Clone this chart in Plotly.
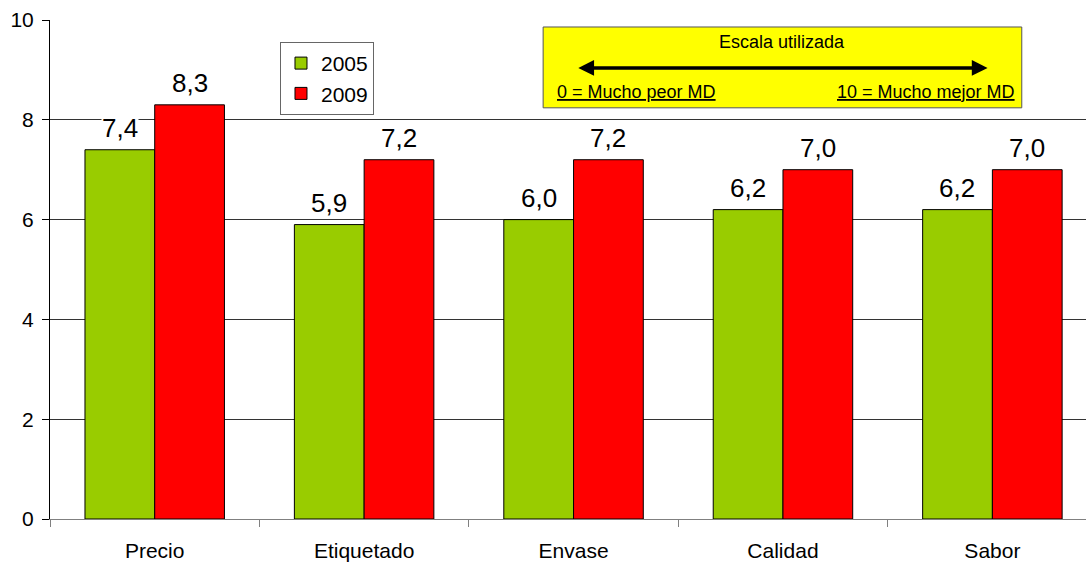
import plotly.graph_objects as go

# Valoración de la marca del distribuidor (MD) por atributo
categorias = ["Precio", "Etiquetado", "Envase", "Calidad", "Sabor"]
valores_2005 = [7.4, 5.9, 6.0, 6.2, 6.2]
valores_2009 = [8.3, 7.2, 7.2, 7.0, 7.0]
series = [("2005", valores_2005, "#99CC00"), ("2009", valores_2009, "#FF0000")]
ticks_y = [0, 2, 4, 6, 8, 10]

FONT = "Liberation Sans, Arial, sans-serif"

fig = go.Figure()
for nombre, valores, color in series:
    fig.add_trace(go.Bar(
        name=nombre, x=categorias, y=valores,
        marker=dict(color=color, line=dict(color="#000000", width=1)),
    ))

# Etiquetas de valor con fondo blanco sobre cada barra
desplaz = [-1 / 6, 1 / 6]
for k, (nombre, valores, color) in enumerate(series):
    for i, v in enumerate(valores):
        fig.add_annotation(
            x=i + desplaz[k], y=v, xref="x", yref="y",
            text=f"{v:.1f}".replace(".", ","),
            showarrow=False, xanchor="center", yanchor="bottom", yshift=6,
            bgcolor="#FFFFFF", borderpad=0,
            font=dict(family=FONT, size=26, color="#000000"),
        )

# Recuadro con la escala utilizada
fig.add_shape(type="rect", xref="paper", yref="paper",
              x0=0.476, x1=0.938, y0=0.824, y1=0.986,
              fillcolor="#FFFF00", line=dict(color="#555555", width=1), layer="above")
fig.add_annotation(xref="paper", yref="paper", x=0.7066, y=0.956,
                   xanchor="center", yanchor="middle",
                   text="Escala utilizada", showarrow=False,
                   font=dict(family=FONT, size=18, color="#000000"))
fig.add_annotation(xref="x", yref="y", x=3.977, y=9.04, ax=2.0155, ay=9.04,
                   axref="x", ayref="y", text="", showarrow=True,
                   arrowhead=2, arrowside="end+start", arrowwidth=3.5,
                   arrowsize=0.9, arrowcolor="#000000")
fig.add_annotation(xref="paper", yref="paper", x=0.487, y=0.856,
                   xanchor="left", yanchor="middle",
                   text="<u>0 = Mucho peor MD</u>", showarrow=False,
                   font=dict(family=FONT, size=18, color="#000000"))
fig.add_annotation(xref="paper", yref="paper", x=0.933, y=0.856,
                   xanchor="right", yanchor="middle",
                   text="<u>10 = Mucho mejor MD</u>", showarrow=False,
                   font=dict(family=FONT, size=18, color="#000000"))

fig.update_layout(
    width=1086, height=563,
    margin=dict(l=50, r=0, t=20, b=44),
    paper_bgcolor="#FFFFFF", plot_bgcolor="#FFFFFF",
    barmode="group", bargap=0.334, bargroupgap=0,
    font=dict(family=FONT, size=20, color="#000000"),
    showlegend=True,
    legend=dict(x=0.222, y=0.956, xanchor="left", yanchor="top",
                bordercolor="#666666", borderwidth=1, bgcolor="#FFFFFF",
                font=dict(family=FONT, size=21), itemwidth=30,
                tracegroupgap=0),
)
fig.update_xaxes(
    range=[-0.5, 4.447], showline=True, linecolor="#808080", linewidth=1,
    ticks="outside", tickson="boundaries", ticklen=7, tickcolor="#808080",
    tickfont=dict(family=FONT, size=21), showgrid=False, zeroline=False,
    ticklabelstandoff=13,
)
fig.update_yaxes(
    range=[0, 10], tickvals=ticks_y, showline=True, linecolor="#000000", linewidth=1,
    ticks="outside", ticklen=7, tickcolor="#000000",
    showgrid=True, gridcolor="#333333", gridwidth=1, zeroline=False,
    tickfont=dict(family=FONT, size=21), ticklabelstandoff=4,
)

fig.write_html("out.html")
